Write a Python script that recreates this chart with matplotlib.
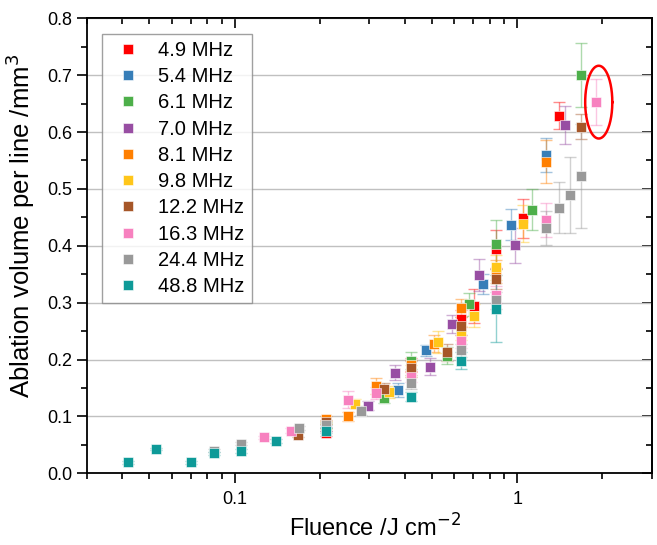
import numpy as np
import matplotlib.pyplot as plt
from matplotlib.ticker import MultipleLocator, LogLocator, NullFormatter

plt.rcParams['font.family'] = ['Liberation Sans', 'DejaVu Sans']

# Daten: Fluenz (J/cm2), Volumen (mm3), Fehler
labels = ['4.9 MHz', '5.4 MHz', '6.1 MHz', '7.0 MHz', '8.1 MHz',
          '9.8 MHz', '12.2 MHz', '16.3 MHz', '24.4 MHz', '48.8 MHz']
colors = ['#FF0000', '#377EB8', '#4DAF4A', '#984EA3', '#FF7F00',
          '#FFC61A', '#A65628', '#F781BF', '#999999', '#0E9A98']

f_49 = [0.211, 0.422, 0.633, 0.705, 0.841, 1.052, 1.403]
v_49 = [0.070, 0.190, 0.272, 0.294, 0.394, 0.448, 0.629]
e_49 = [0.004, 0.012, 0.015, 0.030, 0.033, 0.035, 0.024]

f_54 = [0.211, 0.378, 0.474, 0.760, 0.951, 1.263]
v_54 = [0.080, 0.147, 0.216, 0.333, 0.437, 0.560]
e_54 = [0.005, 0.012, 0.010, 0.018, 0.027, 0.030]

f_61 = [0.211, 0.339, 0.422, 0.563, 0.673, 0.841, 1.124, 1.683]
v_61 = [0.085, 0.132, 0.198, 0.207, 0.297, 0.403, 0.463, 0.700]
e_61 = [0.005, 0.008, 0.015, 0.015, 0.020, 0.043, 0.036, 0.056]

f_70 = [0.296, 0.369, 0.491, 0.588, 0.735, 0.983, 1.478]
v_70 = [0.119, 0.177, 0.187, 0.263, 0.349, 0.401, 0.612]
e_70 = [0.008, 0.013, 0.015, 0.016, 0.028, 0.031, 0.033]

f_81 = [0.211, 0.252, 0.317, 0.422, 0.506, 0.633, 0.841, 1.263]
v_81 = [0.096, 0.100, 0.154, 0.190, 0.228, 0.291, 0.355, 0.548]
e_81 = [0.004, 0.008, 0.014, 0.010, 0.015, 0.016, 0.020, 0.038]

f_98 = [0.211, 0.266, 0.353, 0.422, 0.526, 0.633, 0.705, 0.841, 1.052]
v_98 = [0.082, 0.122, 0.143, 0.180, 0.231, 0.247, 0.277, 0.362, 0.439]
e_98 = [0.004, 0.008, 0.010, 0.010, 0.020, 0.012, 0.020, 0.022, 0.032]

f_122 = [0.168, 0.211, 0.339, 0.422, 0.563, 0.633, 0.841, 1.683]
v_122 = [0.068, 0.090, 0.148, 0.185, 0.213, 0.259, 0.342, 0.609]
e_122 = [0.005, 0.004, 0.010, 0.012, 0.015, 0.015, 0.018, 0.022]

f_163 = [0.127, 0.158, 0.211, 0.252, 0.317, 0.422, 0.633, 0.841, 1.263, 1.902]
v_163 = [0.063, 0.075, 0.078, 0.129, 0.141, 0.170, 0.232, 0.314, 0.446, 0.653]
e_163 = [0.003, 0.004, 0.004, 0.015, 0.010, 0.010, 0.012, 0.015, 0.030, 0.041]

f_244 = [0.0845, 0.1056, 0.169, 0.211, 0.281, 0.422, 0.633, 0.841, 1.263, 1.403, 1.543, 1.683]
v_244 = [0.040, 0.052, 0.080, 0.085, 0.110, 0.159, 0.216, 0.304, 0.432, 0.467, 0.490, 0.523]
e_244 = [0.003, 0.003, 0.004, 0.004, 0.008, 0.010, 0.012, 0.015, 0.030, 0.045, 0.067, 0.092]

f_488 = [0.0421, 0.0526, 0.0703, 0.0845, 0.1056, 0.1406, 0.211, 0.422, 0.633, 0.841]
v_488 = [0.019, 0.043, 0.019, 0.035, 0.039, 0.057, 0.075, 0.135, 0.198, 0.289]
e_488 = [0.002, 0.002, 0.002, 0.003, 0.003, 0.004, 0.004, 0.008, 0.015, 0.059]

series = [(f_49, v_49, e_49), (f_54, v_54, e_54), (f_61, v_61, e_61),
          (f_70, v_70, e_70), (f_81, v_81, e_81), (f_98, v_98, e_98),
          (f_122, v_122, e_122), (f_163, v_163, e_163),
          (f_244, v_244, e_244), (f_488, v_488, e_488)]

# markierter Punkt (Ellipse)
mark_x, mark_y = 1.944, 0.6526
mark_w, mark_h = 0.048, 0.064   # Halbachsen: Dekaden, mm3

fig = plt.figure(figsize=(6.57, 5.45), dpi=100)
ax = fig.add_axes([0.132, 0.1316, 0.8604, 0.8348])

for (f, v, e), lab, c in zip(series, labels, colors):
    ax.errorbar(f, v, yerr=e, fmt='none', ecolor=c, alpha=0.45,
                elinewidth=1, capsize=4, capthick=1, zorder=2)
    ax.plot(f, v, 's', color=c, ms=7, mec='white', mew=0.4,
            label=lab, zorder=3)

# Ellipse um den Punkt
t = np.linspace(0, 2 * np.pi, 200)
ax.plot(10 ** (np.log10(mark_x) + mark_w * np.cos(t)),
        mark_y + mark_h * np.sin(t), color='#FF0000', lw=1.8, zorder=4)

ax.set_xscale('log')
ax.set_xlim(0.03, 3)
ax.set_ylim(0, 0.8)
ax.set_xticks([0.1, 1])
ax.set_xticklabels(['0.1', '1'])
ax.xaxis.set_minor_locator(LogLocator(base=10, subs=np.arange(2, 10)))
ax.xaxis.set_minor_formatter(NullFormatter())
ax.yaxis.set_major_locator(MultipleLocator(0.1))
ax.yaxis.set_minor_locator(MultipleLocator(0.05))
ax.yaxis.set_major_formatter(plt.FuncFormatter(lambda v, p: f'{v:.1f}'))

ax.grid(True, axis='y', which='major', color='#C0C0C0', lw=1)
ax.set_axisbelow(True)
for s in ax.spines.values():
    s.set_linewidth(1.3)

ax.tick_params(which='both', direction='out', width=1.2, labelsize=13,
               top=False, right=False)
ax.tick_params(which='major', length=7)
ax.tick_params(which='minor', length=4)
ax.tick_params(axis='x', pad=6)

# innere Ticks oben und rechts
ax2 = ax.secondary_xaxis('top')
ax2.set_xticks([0.1, 1])
ax2.xaxis.set_minor_locator(LogLocator(base=10, subs=np.arange(2, 10)))
ax2.xaxis.set_minor_formatter(NullFormatter())
ax2.tick_params(which='both', direction='in', width=1.2, labeltop=False)
ax2.tick_params(which='major', length=7)
ax2.tick_params(which='minor', length=4)
ax3 = ax.secondary_yaxis('right')
ax3.yaxis.set_major_locator(MultipleLocator(0.1))
ax3.yaxis.set_minor_locator(MultipleLocator(0.05))
ax3.tick_params(which='both', direction='in', width=1.2, labelright=False)
ax3.tick_params(which='major', length=7)
ax3.tick_params(which='minor', length=4)
ax2.spines['top'].set_linewidth(1.3)
ax3.spines['right'].set_linewidth(1.3)

ax.set_xlabel('Fluence /J cm$^{-2}$', fontsize=17)
ax.set_ylabel('Ablation volume per line /mm$^{3}$', fontsize=18.5)
ax.xaxis.set_label_coords(0.51, -0.09)
ax.yaxis.set_label_coords(-0.088, 0.543)

leg = ax.legend(loc='upper left', bbox_to_anchor=(0.0265, 0.966),
                fontsize=14.5, frameon=True, fancybox=False,
                edgecolor='#888888', borderpad=0.35, labelspacing=0.36,
                handletextpad=0.5, handlelength=1.95, borderaxespad=0)
leg.get_frame().set_linewidth(1)

plt.savefig('out.png', dpi=100)
